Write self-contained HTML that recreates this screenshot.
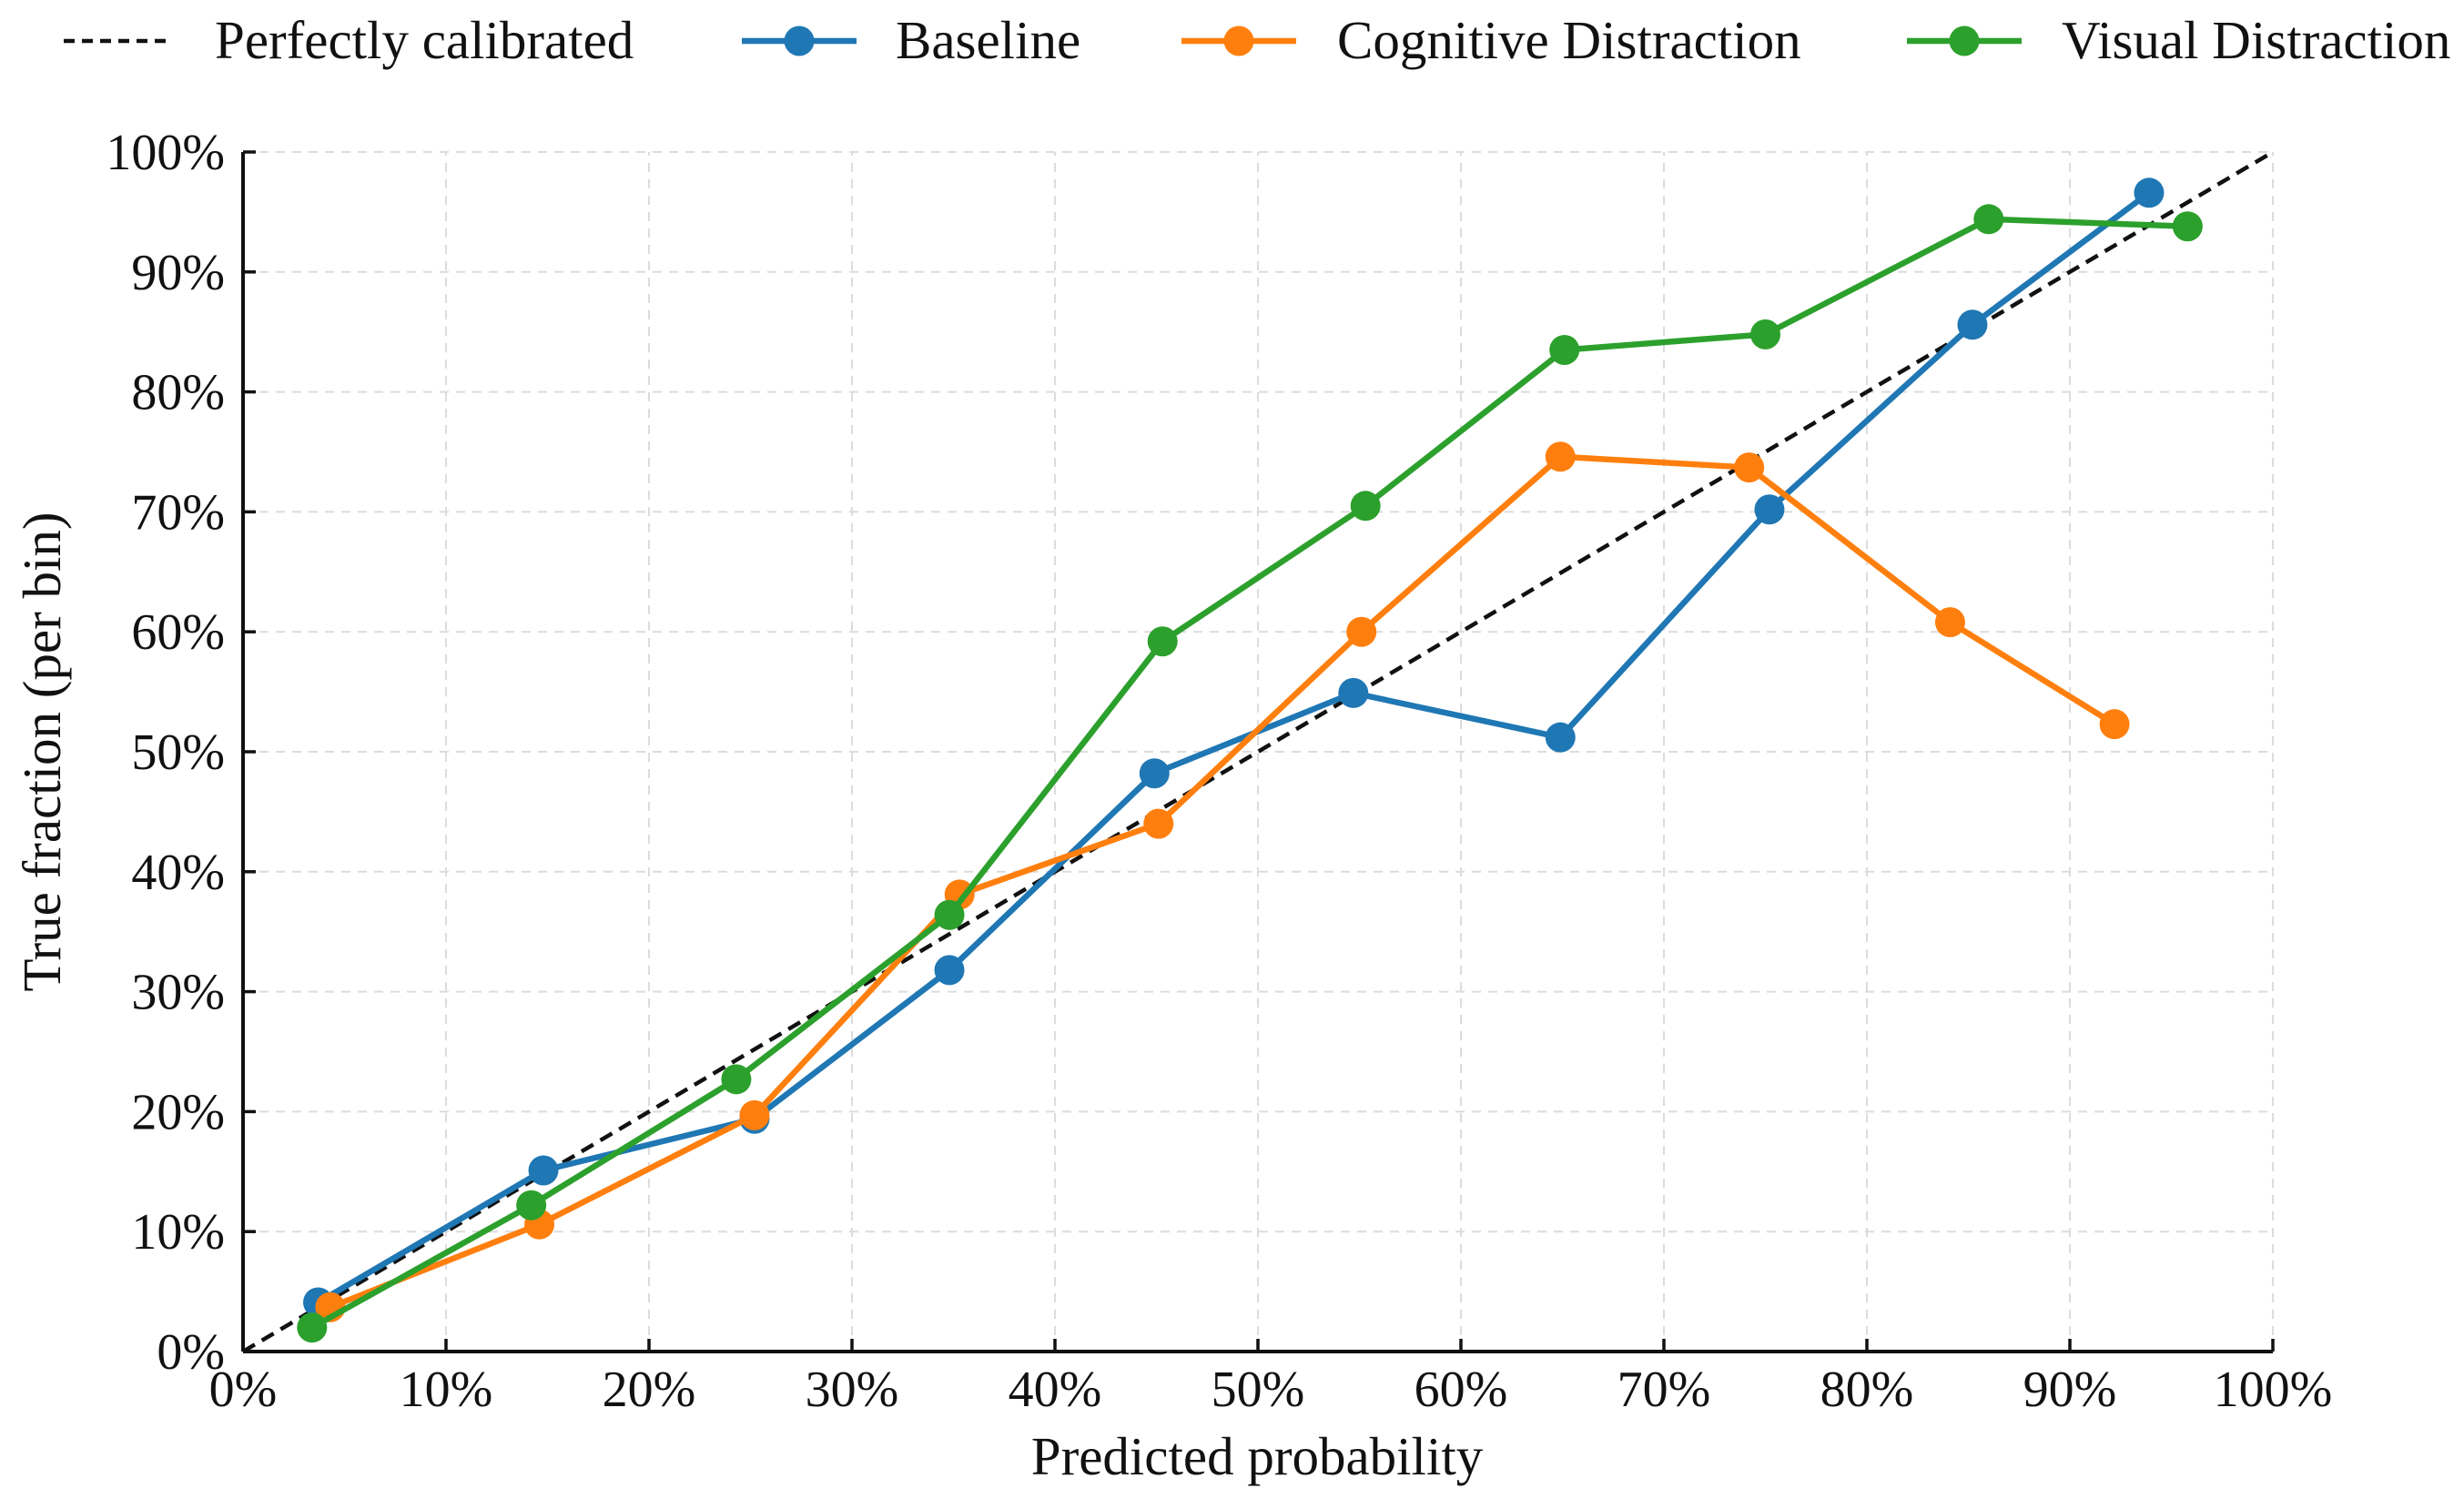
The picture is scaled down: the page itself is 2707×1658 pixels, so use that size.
<!DOCTYPE html>
<html><head><meta charset="utf-8"><style>
html,body{margin:0;padding:0;background:#fff;}
svg{display:block;font-family:"Liberation Serif",serif;}
</style></head><body>
<svg id="chart" width="2707" height="1658" viewBox="0 0 2707 1658" xmlns="http://www.w3.org/2000/svg">
<g id="grid"></g>
<g id="axes"></g>
<g id="series"></g>
<g id="legend"></g>
<text x="1381" y="1620" font-size="59" text-anchor="middle" fill="#111">Predicted probability</text>
<text x="0" y="0" font-size="59" text-anchor="middle" fill="#111" transform="translate(66,826) rotate(-90)">True fraction (per bin)</text>
</svg>
<script>
const xTicks = [0,10,20,30,40,50,60,70,80,90,100];
const yTicks = [0,10,20,30,40,50,60,70,80,90,100];
const tickLabels = ["0%","10%","20%","30%","40%","50%","60%","70%","80%","90%","100%"];
const seriesNames = ["Baseline","Cognitive Distraction","Visual Distraction"];
const baselineX = [3.7,14.8,25.2,34.8,44.9,54.7,64.9,75.2,85.2,93.9];
const baselineY = [4.1,15.1,19.4,31.8,48.2,54.9,51.2,70.2,85.6,96.6];
const cognitiveX = [4.3,14.6,25.2,35.3,45.1,55.1,64.9,74.2,84.1,92.2];
const cognitiveY = [3.7,10.6,19.7,38.1,44.0,60.0,74.6,73.7,60.8,52.3];
const visualX = [3.4,14.2,24.3,34.8,45.3,55.3,65.1,75.0,86.0,95.8];
const visualY = [2.0,12.2,22.7,36.4,59.2,70.5,83.5,84.8,94.4,93.8];

const NS="http://www.w3.org/2000/svg";
const X0=267,X1=2497,Y0=1485,Y1=167;
function sx(v){return X0+(X1-X0)*v/100;}
function sy(v){return Y0-(Y0-Y1)*v/100;}
function mk(tag,attrs,parent){const e=document.createElementNS(NS,tag);for(const k in attrs)e.setAttribute(k,attrs[k]);parent.appendChild(e);return e;}
const grid=document.getElementById('grid'),axes=document.getElementById('axes'),ser=document.getElementById('series'),leg=document.getElementById('legend');

xTicks.forEach((t,i)=>{
  const g=mk('line',{x1:sx(t),x2:sx(t),y1:Y0,y2:Y1,stroke:'#dcdcdc','stroke-width':2,'stroke-dasharray':'10 8'},grid);
  
  
  const tk=mk('line',{x1:sx(t),x2:sx(t),y1:Y0,y2:Y0-14,stroke:'#111','stroke-width':3.5},axes);
  
  
  const lb=mk('text',{x:sx(t),y:Y0+60,'font-size':56,'text-anchor':'middle',fill:'#111'},axes);
  
  
  lb.textContent=tickLabels[i];
});
yTicks.forEach((t,i)=>{
  const g=mk('line',{x1:X0,x2:X1,y1:sy(t),y2:sy(t),stroke:'#dcdcdc','stroke-width':2,'stroke-dasharray':'10 8'},grid);
  
  
  const tk=mk('line',{x1:X0,x2:X0+14,y1:sy(t),y2:sy(t),stroke:'#111','stroke-width':3.5},axes);
  
  
  const lb=mk('text',{x:X0-20,y:sy(t)+19,'font-size':56,'text-anchor':'end',fill:'#111'},axes);
  
  
  lb.textContent=tickLabels[i];
});
const sp1=mk('line',{x1:X0,x2:X0,y1:Y1,y2:Y0,stroke:'#111','stroke-width':4},axes);


const sp2=mk('line',{x1:X0,x2:X1,y1:Y0,y2:Y0,stroke:'#111','stroke-width':4},axes);



const diag=mk('line',{x1:sx(0),y1:sy(0),x2:sx(100),y2:sy(100),stroke:'#111','stroke-width':4.5,'stroke-dasharray':'15 9'},ser);



const colors=['#1f77b4','#ff7f0e','#2ca02c'];
const data=[[baselineX,baselineY],[cognitiveX,cognitiveY],[visualX,visualY]];
const keys=['baseline','cognitive','visual'];
data.forEach(([xs,ys],si)=>{
  const pts=xs.map((x,i)=>sx(x)+','+sy(ys[i])).join(' ');
  const pl=mk('polyline',{points:pts,fill:'none',stroke:colors[si],'stroke-width':6.5,'stroke-linejoin':'round'},ser);
  
  
  xs.forEach((x,i)=>{
    const c=mk('circle',{cx:sx(x),cy:sy(ys[i]),r:16.5,fill:colors[si]},ser);
    
    
  });
});

// legend
const LY=45;
const l0=mk('line',{x1:70,x2:186,y1:LY,y2:LY,stroke:'#111','stroke-width':4.5,'stroke-dasharray':'12 8'},leg);


const t0=mk('text',{x:236,y:LY+19,'font-size':59,fill:'#111'},leg);


t0.textContent='Perfectly calibrated';
const lx=[815,1298,2095],tx=[984,1469,2265];
seriesNames.forEach((n,i)=>{
  const l=mk('line',{x1:lx[i],x2:lx[i]+126,y1:LY,y2:LY,stroke:colors[i],'stroke-width':6.5},leg);
  
  
  const c=mk('circle',{cx:lx[i]+63,cy:LY,r:16.5,fill:colors[i]},leg);
  
  
  const t=mk('text',{x:tx[i],y:LY+19,'font-size':59,fill:'#111'},leg);
  
  
  t.textContent=n;
});
</script>
</body></html>
